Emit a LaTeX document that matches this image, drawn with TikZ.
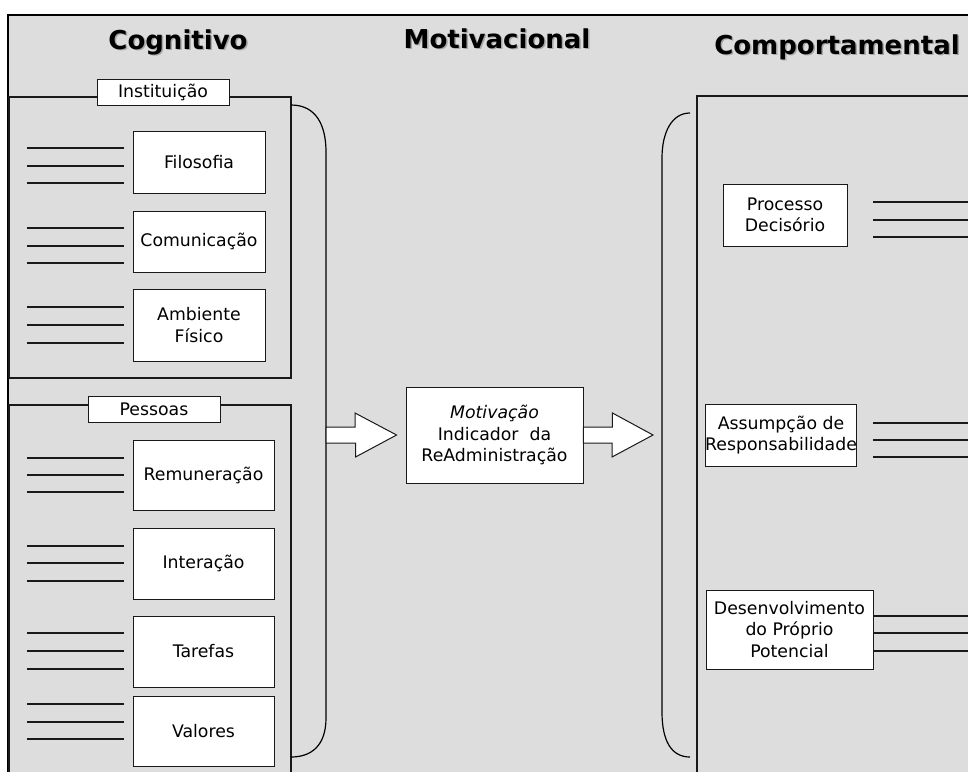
\documentclass[tikz,border=0pt]{standalone}
\usepackage{fontspec}
\setmainfont{DejaVu Sans}
\usetikzlibrary{calc}

\definecolor{panelgray}{RGB}{221,221,221}
\definecolor{ink}{RGB}{25,25,25}

\newcommand{\shadowed}[1]{\makebox[0pt][l]{\hspace{1.5pt}\raisebox{-1.5pt}{\textcolor{black!35}{#1}}}#1}

\tikzset{
  box/.style={draw=ink, fill=white, line width=0.9pt, inner sep=0pt, align=center,
    font=\fontsize{17.3}{21.5}\selectfont},
  tag/.style={box, minimum width=132pt, minimum height=26pt},
  heading/.style={anchor=base, font=\fontsize{26}{30}\selectfont\bfseries},
  panel/.style={draw=ink, line width=1.3pt},
  rule/.style={draw=ink, line width=1.2pt},
  bigarrow/.style={draw=ink, fill=white, line width=1pt},
  brace/.style={draw=black, line width=1.2pt},
}

\begin{document}
\begin{tikzpicture}[x=1pt,y=-1pt]
  \useasboundingbox (0,0) rectangle (968,771);
  \clip (0,0) rectangle (968,771);
  \fill[panelgray] (8,15) rectangle (980,780);
  \draw[line width=2.2pt] (8,790) -- (8,15) -- (980,15);

  \node[heading] (cog) at (178,49) {\shadowed{Cognitivo}};
  \node[heading] (moti) at (497,48) {\shadowed{Motivacional}};
  \node[heading] (comp) at (837,54) {\shadowed{Comportamental}};

  \draw[panel] (9,97) rectangle (291,378);
  \draw[panel] (9,405) rectangle (291,800);
  \draw[panel] (697,96) rectangle (990,800);

  \node[tag] (inst) at (163,92) {Instituição};
  \node[tag] (pess) at (154,409) {Pessoas};

  \node[box, minimum width=132pt, minimum height=62pt] (filo) at (199,162) {Filosofia};
  \node[box, minimum width=132pt, minimum height=61pt] (comu) at (199,241.5) {Comunicação};
  \node[box, minimum width=132pt, minimum height=72pt] (amb) at (199,325) {Ambiente\\Físico};

  \node[box, minimum width=141pt, minimum height=70pt] (remu) at (203.5,475) {Remuneração};
  \node[box, minimum width=141pt, minimum height=71pt] (inte) at (203.5,563.5) {Interação};
  \node[box, minimum width=141pt, minimum height=71pt] (tare) at (203.5,651.5) {Tarefas};
  \node[box, minimum width=141pt, minimum height=70pt] (valo) at (203.5,731) {Valores};

  \node[box, minimum width=177pt, minimum height=96pt] (mot) at (494.5,435)
    {{\itshape Motivação}\\Indicador\ \ da\\ReAdministração};

  \node[box, minimum width=124pt, minimum height=62pt] (proc) at (785,215) {Processo\\Decisório};
  \node[box, minimum width=150pt, minimum height=62pt] (assu) at (781,435) {Assumpção de\\Responsabilidade};
  \node[box, minimum width=167pt, minimum height=79pt] (dese) at (789.5,629.5) {Desenvolvimento\\do Próprio\\Potencial};

  \foreach \y in {148,166,183, 228,246,263, 307,325,343,
                  458,475,492, 546,563,581, 633,651,669, 704,722,739}
    \draw[rule] (27,\y) -- (124,\y);
  \foreach \y in {202,220,237, 423,440,457, 616,633,651}
    \draw[rule] (873,\y) -- (975,\y);

  \coordinate (lbrace) at (326,435);
  \coordinate (rbrace) at (662,435);
  \draw[brace] (291,105) .. controls (316,105) and (326,125) .. (326,152)
    -- (lbrace) -- (326,718) .. controls (326,745) and (312,757) .. (291,757);
  \draw[brace] (690,113) .. controls (672,113) and (662,132) .. (662,158)
    -- (rbrace) -- (662,712) .. controls (662,742) and (672,757) .. (690,757);

  \draw[bigarrow] ($(lbrace)+(0,-8)$) -- ++(29,0) -- ++(0,-14) -- ($(mot.west)+(-9,0)$)
    -- ++(-41,22) -- ++(0,-14) -- ($(lbrace)+(0,8)$) -- cycle;
  \draw[bigarrow] ($(mot.east)+(0,-8)$) -- ++(29,0) -- ++(0,-14) -- ($(rbrace)+(-9,0)$)
    -- ++(-41,22) -- ++(0,-14) -- ($(mot.east)+(0,8)$) -- cycle;
\end{tikzpicture}
\end{document}
